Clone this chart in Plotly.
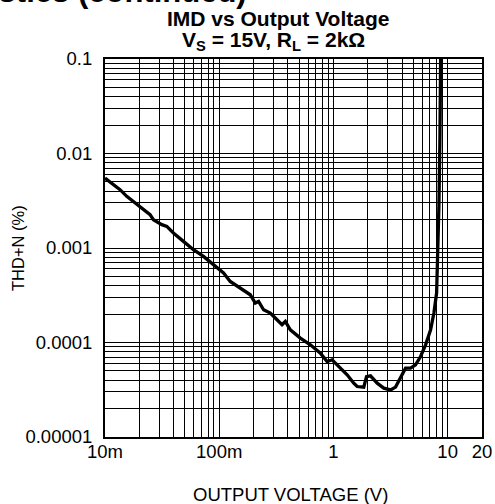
import plotly.graph_objects as go

# Data
voltage_v = [0.0100, 0.01183, 0.01354, 0.0155, 0.01771, 0.01897, 0.02168, 0.02481, 0.02653, 0.03144,
             0.03477, 0.03973, 0.04862, 0.05951, 0.07283, 0.08913, 0.1091, 0.1249, 0.1529, 0.1871,
             0.2069, 0.2212, 0.2447, 0.2802, 0.3208, 0.3548, 0.3793, 0.4196, 0.5134, 0.6284,
             0.7691, 0.8806, 0.9741, 1.078, 1.319, 1.507, 1.614, 1.844, 1.948, 2.112,
             2.417, 2.762, 3.162, 3.499, 3.870, 4.281, 4.735, 5.239, 5.797, 6.412,
             7.095, 7.583, 8.008, 8.221, 8.389, 8.561, 8.683]
thd_n_pct = [0.00549, 0.004685, 0.004146, 0.003521, 0.003116, 0.002875, 0.002545, 0.002253, 0.001995, 0.001766,
             0.001694, 0.001442, 0.001175, 0.0009594, 0.0008147, 0.0006654, 0.0005436, 0.0004427, 0.000377, 0.00032,
             0.0002615, 0.0002718, 0.000222, 0.0002048, 0.000174, 0.000154, 0.0001669, 0.0001363, 0.0001113, 0.0000945,
             0.0000772, 0.0000629, 0.0000656, 0.000058, 0.0000455, 0.0000371, 0.0000342, 0.0000337, 0.0000436, 0.0000444,
             0.0000371, 0.0000329, 0.0000315, 0.0000337, 0.000042, 0.0000535, 0.0000535, 0.000058, 0.0000711, 0.0000945,
             0.0001363, 0.0002048, 0.0003336, 0.0008147, 0.002758, 0.01403, 0.1]

x_major = {0.01: "10m", 0.1: "100m", 1: "1", 10: "10", 20: "20"}
y_major = {1e-5: "0.00001", 1e-4: "0.0001", 1e-3: "0.001", 1e-2: "0.01", 1e-1: "0.1"}

x_ticks = []
for dec in [0.01, 0.1, 1]:
    for m in range(1, 10):
        x_ticks.append(round(dec * m, 6))
x_ticks += [10, 20]
x_text = [x_major.get(v, "") for v in x_ticks]

y_ticks = []
for dec in [1e-5, 1e-4, 1e-3, 1e-2]:
    for m in range(1, 10):
        y_ticks.append(float(f"{dec*m:.6g}"))
y_ticks.append(0.1)
y_text = [y_major.get(v, "") for v in y_ticks]

FONT = "Arial, Liberation Sans, Helvetica, sans-serif"

fig = go.Figure()
fig.add_trace(go.Scatter(x=voltage_v, y=thd_n_pct, mode="lines",
                         line=dict(color="black", width=3.3), showlegend=False, hoverinfo="skip"))

fig.update_xaxes(type="log", range=[-2, 1.30103], tickmode="array", tickvals=x_ticks, ticktext=x_text,
                 showgrid=True, gridcolor="black", gridwidth=1, showline=True, mirror=True,
                 linecolor="black", linewidth=2, ticks="", zeroline=False, automargin=False,
                 tickfont=dict(family=FONT, size=18.5, color="black"), ticklabelstandoff=-3)
fig.update_yaxes(type="log", range=[-5, -1], tickmode="array", tickvals=y_ticks, ticktext=y_text,
                 showgrid=True, gridcolor="black", gridwidth=1, showline=True, mirror=True,
                 linecolor="black", linewidth=2, ticks="", zeroline=False, automargin=False,
                 tickfont=dict(family=FONT, size=18.5, color="black"), ticklabelstandoff=7)

# axis titles
fig.add_annotation(text="OUTPUT VOLTAGE (V)", xref="paper", yref="paper",
                   x=0.492, y=-0.153, xanchor="center", yanchor="middle", showarrow=False,
                   font=dict(family=FONT, size=18.5, color="black"))
fig.add_annotation(text="THD+N (%)", xref="paper", yref="paper", textangle=-90,
                   x=-0.2308, y=0.5, xanchor="center", yanchor="middle", showarrow=False,
                   font=dict(family=FONT, size=16.5, color="black"))

# chart title
fig.add_annotation(text="<b>IMD vs Output Voltage</b>", xref="paper", yref="paper",
                   x=0.4576, y=1.107, xanchor="center", yanchor="middle", showarrow=False,
                   font=dict(family=FONT, size=21, color="black"))
fig.add_annotation(text="<b>V<sub>S</sub> = 15V, R<sub>L</sub> = 2kΩ</b>", xref="paper", yref="paper",
                   x=0.447, y=1.047, xanchor="center", yanchor="middle", showarrow=False,
                   font=dict(family=FONT, size=21, color="black"))
# page heading cut by the top edge
fig.add_annotation(text="<b>Typical Performance Characteristics (continued)</b>", xref="paper", yref="paper",
                   x=0.381, y=1.1275, xanchor="right", yanchor="bottom", showarrow=False,
                   font=dict(family=FONT, size=31, color="black"))

fig.update_layout(width=495, height=504, margin=dict(l=105, r=13, t=59, b=67, autoexpand=False),
                  paper_bgcolor="white", plot_bgcolor="white", hovermode=False, dragmode=False)

fig.write_html("out.html", config={"displayModeBar": False, "staticPlot": True},
               post_script="document.body.style.margin='0px';")
